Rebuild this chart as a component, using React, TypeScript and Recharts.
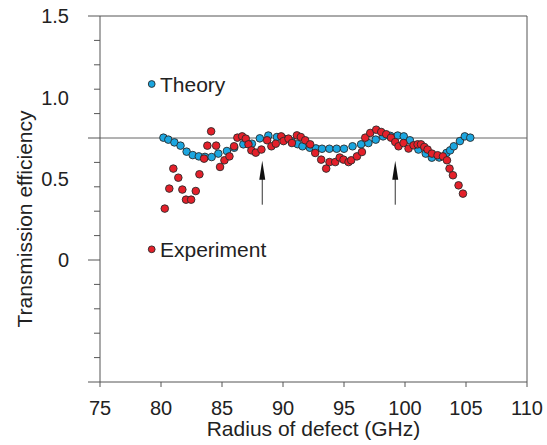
import { ScatterChart, Scatter, XAxis, YAxis, ReferenceLine } from 'recharts';

const xTicks = [75, 80, 85, 90, 95, 100, 105, 110];
const yMinorTicks = [-0.75, -0.6, -0.45, -0.3, -0.15, 0, 0.15, 0.3, 0.45, 0.6, 0.75, 0.9, 1.05, 1.2, 1.35, 1.5];
const yMajorTicks = [-0.75, 0, 0.75, 1.5];
const yLabelTicks = [0, 0.5, 1.0, 1.5];
const yLabelText = ['0', '0.5', '1.0', '1.5'];

const theoryX = [
  80.2, 80.6, 81.1, 81.6, 82.1, 82.6, 83.1, 83.6, 84.15, 84.7, 85.4, 86.0, 86.75, 87.45, 88.1, 88.8,
  89.5, 90.1, 90.7, 91.2, 91.6, 92.2, 92.7, 93.2, 93.8, 94.4, 95.0, 95.7, 96.4, 97.0, 97.6, 98.2,
  98.8, 99.4, 99.9, 100.4, 101.1, 101.7, 102.2, 102.8, 103.4, 103.7, 104.0, 104.5, 104.9, 105.35,
];
const theoryY = [
  0.752, 0.74, 0.723, 0.703, 0.666, 0.645, 0.637, 0.634, 0.633, 0.654, 0.67, 0.69, 0.711, 0.715, 0.748, 0.765,
  0.756, 0.745, 0.73, 0.712, 0.699, 0.69, 0.686, 0.684, 0.684, 0.684, 0.684, 0.699, 0.711, 0.719, 0.74, 0.76,
  0.763, 0.765, 0.76, 0.736, 0.679, 0.654, 0.629, 0.63, 0.658, 0.674, 0.699, 0.731, 0.76, 0.752,
];

const experimentX = [
  80.31, 80.68, 81.01, 81.42, 81.75, 82.05, 82.47, 82.85, 83.15, 83.53, 83.8, 84.11, 84.52, 84.84, 85.2, 85.61,
  85.99, 86.26, 86.65, 86.95, 87.17, 87.41, 87.77, 88.23, 88.7, 89.05, 89.41, 89.85, 90.04, 90.45, 90.73, 91.14,
  91.46, 91.82, 92.23, 92.64, 93.13, 93.54, 93.81, 94.28, 94.65, 94.96, 95.37, 95.59, 96.06, 96.47, 96.74, 97.15,
  97.64, 98.05, 98.46, 98.85, 99.2, 99.47, 99.88, 100.29, 100.7, 101.03, 101.31, 101.58, 101.85, 102.21, 102.67,
  103.11, 103.44, 103.65, 103.93, 104.39, 104.75,
];
const experimentY = [
  0.316, 0.439, 0.562, 0.506, 0.433, 0.371, 0.371, 0.424, 0.527, 0.623, 0.703, 0.791, 0.703, 0.572, 0.613, 0.637,
  0.699, 0.752, 0.76, 0.746, 0.711, 0.674, 0.66, 0.679, 0.736, 0.699, 0.715, 0.76, 0.731, 0.746, 0.719, 0.766,
  0.756, 0.736, 0.711, 0.658, 0.617, 0.562, 0.602, 0.602, 0.63, 0.617, 0.602, 0.613, 0.637, 0.664, 0.752, 0.781,
  0.801, 0.787, 0.773, 0.752, 0.725, 0.699, 0.719, 0.685, 0.705, 0.711, 0.711, 0.695, 0.679, 0.654, 0.644,
  0.637, 0.613, 0.562, 0.521, 0.459, 0.408,
];

const arrowX = [88.3, 99.2];
const arrowTail = 0.34;
const arrowTip = 0.61;

const theoryData = theoryX.map((x, i) => ({ x, y: theoryY[i] }));
const experimentData = experimentX.map((x, i) => ({ x, y: experimentY[i] }));
const yTicks = Array.from(new Set([...yMinorTicks, ...yLabelTicks])).sort((a, b) => a - b);

const BLUE = '#1ba6e0';
const RED = '#e4202a';
const AXIS = '#555';
const FONT = 'Arial, "Liberation Sans", Helvetica, sans-serif';

const YTick = ({ x, y, payload }: any) => {
  const v = payload.value;
  const li = yLabelTicks.indexOf(v);
  const len = yMajorTicks.includes(v) ? 12 : 6;
  return (
    <g>
      {yMinorTicks.includes(v) && <line x1={x - len} x2={x} y1={y} y2={y} stroke={AXIS} strokeWidth={1} />}
      {li >= 0 && (
        <text x={x - 31} y={y} dy="0.36em" textAnchor="end" fontSize={20} fill="#222" fontFamily={FONT}>
          {yLabelText[li]}
        </text>
      )}
    </g>
  );
};

const dot = (color: string) => (props: any) => (
  <circle cx={props.cx} cy={props.cy} r={3.8} fill={color} stroke="#2a2a2a" strokeWidth={0.9} />
);

const Arrow = (props: any) => {
  const { x1, y1, y2 } = props;
  const tip = Math.min(y1, y2);
  const tail = Math.max(y1, y2);
  return (
    <g>
      <line x1={x1} x2={x1} y1={tip + 10} y2={tail} stroke="#333" strokeWidth={1} />
      <path d={`M${x1},${tip} L${x1 - 3},${tip + 19} L${x1 + 3},${tip + 19} Z`} fill="#111" />
    </g>
  );
};

export default function App() {
  return (
    <div style={{ position: 'absolute', left: 0, top: 0, width: 547, height: 445, background: '#fff' }}>
      <ScatterChart width={547} height={445} margin={{ top: 16, right: 20, bottom: 0, left: 0 }}>
        <XAxis
          type="number"
          dataKey="x"
          domain={[75, 110]}
          ticks={xTicks}
          interval={0}
          tickSize={5}
          tickMargin={14}
          height={63}
          stroke={AXIS}
          tick={{ fill: '#222', fontSize: 20, fontFamily: FONT }}
          label={({ viewBox }: any) => (
            <text
              x={viewBox.x + viewBox.width / 2}
              y={viewBox.y + 54}
              textAnchor="middle"
              fontSize={21}
              fill="#222"
              fontFamily={FONT}
            >
              Radius of defect (GHz)
            </text>
          )}
        />
        <YAxis
          type="number"
          dataKey="y"
          domain={[-0.75, 1.5]}
          ticks={yTicks}
          interval={0}
          width={100}
          tickSize={0}
          tickMargin={0}
          tickLine={false}
          stroke={AXIS}
          tick={<YTick />}
          label={() => (
            <text
              x={32}
              y={219}
              transform="rotate(-90, 32, 219)"
              textAnchor="middle"
              fontSize={21}
              fill="#222"
              fontFamily={FONT}
            >
              Transmission efficiency
            </text>
          )}
        />
        <ReferenceLine y={1.5} stroke={AXIS} strokeWidth={1} />
        <ReferenceLine x={110} stroke={AXIS} strokeWidth={1} />
        <ReferenceLine y={0.75} stroke="#666" strokeWidth={1} />
        {arrowX.map((ax) => (
          <ReferenceLine
            key={ax}
            segment={[{ x: ax, y: arrowTail }, { x: ax, y: arrowTip }]}
            shape={Arrow}
          />
        ))}
        <Scatter name="Theory" data={theoryData} shape={dot(BLUE)} isAnimationActive={false} />
        <Scatter name="Experiment" data={experimentData} shape={dot(RED)} isAnimationActive={false} />
      </ScatterChart>
      <svg width={547} height={445} style={{ position: 'absolute', left: 0, top: 0, pointerEvents: 'none' }}>
        <circle cx={151.7} cy={84} r={3.4} fill={BLUE} stroke="#2a2a2a" strokeWidth={0.9} />
        <text x={160} y={91.5} fontSize={21} fill="#222" fontFamily={FONT}>Theory</text>
        <circle cx={151.7} cy={249.3} r={3.4} fill={RED} stroke="#2a2a2a" strokeWidth={0.9} />
        <text x={160} y={256.8} fontSize={21} fill="#222" fontFamily={FONT}>Experiment</text>
      </svg>
    </div>
  );
}
